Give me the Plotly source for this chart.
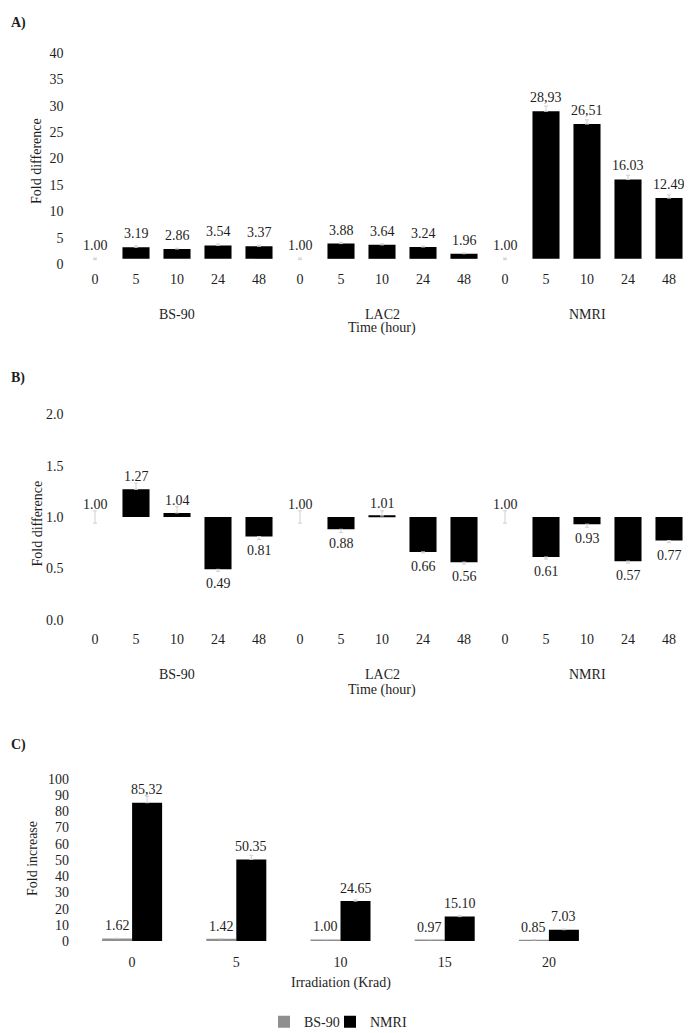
import plotly.graph_objects as go

# ---------------- data ----------------
times = ["0", "5", "10", "24", "48"]
strains = ["BS-90", "LAC2", "NMRI"]

a_values = [1.00, 3.19, 2.86, 3.54, 3.37,
            1.00, 3.88, 3.64, 3.24, 1.96,
            1.00, 28.93, 26.51, 16.03, 12.49]
a_labels = ["1.00", "3.19", "2.86", "3.54", "3.37",
            "1.00", "3.88", "3.64", "3.24", "1.96",
            "1.00", "28,93", "26,51", "16.03", "12.49"]
a_errors = [0.15, 0.25, 0.15, 0.25, 0.2,
            0.15, 0.25, 0.2, 0.15, 0.15,
            0.15, 1.0, 0.8, 0.8, 0.6]

b_values = [1.00, 1.27, 1.04, 0.49, 0.81,
            1.00, 0.88, 1.01, 0.66, 0.56,
            1.00, 0.61, 0.93, 0.57, 0.77]
b_labels = ["1.00", "1.27", "1.04", "0.49", "0.81",
            "1.00", "0.88", "1.01", "0.66", "0.56",
            "1.00", "0.61", "0.93", "0.57", "0.77"]
b_errors = [0.06, 0.06, 0.06, 0.02, 0.03,
            0.06, 0.03, 0.05, 0.01, 0.02,
            0.06, 0.02, 0.03, 0.02, 0.02]

c_doses = ["0", "5", "10", "15", "20"]
c_bs90 = [1.62, 1.42, 1.00, 0.97, 0.85]
c_bs90_labels = ["1.62", "1.42", "1.00", "0.97", "0.85"]
c_bs90_err = [0.2, 0.2, 0.1, 0.1, 0.1]
c_nmri = [85.32, 50.35, 24.65, 15.10, 7.03]
c_nmri_labels = ["85,32", "50.35", "24.65", "15.10", "7.03"]
c_nmri_err = [4.0, 2.5, 0.8, 0.6, 0.4]

# ---------------- style ----------------
BODY = 8              # default page margin around the plot div
W, H = 692 - 2 * BODY, 1033
FONT = "Liberation Serif"
TXT = "#1e1e1e"
ERR = "#d0d0d0"
GRAY = "#8f8f8f"


def fy(r):
    # target screen row -> figure pixel row (calibrated)
    return (r - 6.4) / 0.984 - BODY


def py(r):
    return 1 - fy(r) / H


def px_x(p):
    return (p - BODY) / W


def err_dirs(values, errs, base):
    # error bar shown only on the side away from the bar (both for empty bars)
    plus = [e if v >= base else 0 for v, e in zip(values, errs)]
    minus = [e if v <= base else 0 for v, e in zip(values, errs)]
    return plus, minus


n = len(times) * len(strains)
xs = list(range(n))
tick_text = times * len(strains)

fig = go.Figure()

bar_common = dict(cliponaxis=False, showlegend=False, hoverinfo="skip")

# Panel A
a_plus, a_minus = err_dirs(a_values, a_errors, 1)
fig.add_trace(go.Bar(
    x=xs, y=[v - 1 for v in a_values], base=1, width=0.66,
    marker=dict(color="black", line=dict(width=0)),
    error_y=dict(type="data", array=a_plus, arrayminus=a_minus, symmetric=False,
                 color=ERR, thickness=1, width=2),
    xaxis="x", yaxis="y", **bar_common,
))

# Panel B
b_plus, b_minus = err_dirs(b_values, b_errors, 1)
fig.add_trace(go.Bar(
    x=xs, y=[v - 1 for v in b_values], base=1, width=0.66,
    marker=dict(color="black", line=dict(width=0)),
    error_y=dict(type="data", array=b_plus, arrayminus=b_minus, symmetric=False,
                 color=ERR, thickness=1, width=2),
    xaxis="x2", yaxis="y2", **bar_common,
))

# Panel C
cx = list(range(len(c_doses)))
bw = 0.288
fig.add_trace(go.Bar(
    x=cx, y=c_bs90, width=bw, offset=-bw, name="BS-90",
    marker=dict(color=GRAY, line=dict(width=0)),
    error_y=dict(type="data", array=c_bs90_err, arrayminus=[0] * len(c_bs90), symmetric=False,
                 color=ERR, thickness=1, width=2),
    xaxis="x3", yaxis="y3", cliponaxis=False, hoverinfo="skip", legend="legend",
))
fig.add_trace(go.Bar(
    x=cx, y=c_nmri, width=bw, offset=0, name="NMRI",
    marker=dict(color="black", line=dict(width=0)),
    error_y=dict(type="data", array=c_nmri_err, arrayminus=[0] * len(c_nmri), symmetric=False,
                 color=ERR, thickness=1, width=2),
    xaxis="x3", yaxis="y3", cliponaxis=False, hoverinfo="skip", legend="legend2",
))

tickfont = dict(family=FONT, size=14, color=TXT)
common_ax = dict(showgrid=False, zeroline=False, showline=False, ticks="",
                 tickfont=tickfont, fixedrange=True)

# plot area of A/B: page x 74.5 .. figure right edge; category pitch 41 px
ab_left = 74.5
ab_right = BODY + W
ab_range = [-0.5, -0.5 + (ab_right - ab_left) / 41.0]
ab_xdom = [px_x(ab_left), 1.0]

layout_axes = dict(
    xaxis=dict(domain=ab_xdom, range=ab_range, tickvals=xs, ticktext=tick_text,
               anchor="y", ticklabelstandoff=5, **common_ax),
    yaxis=dict(domain=[py(263), py(52)], range=[0, 40], tickvals=list(range(0, 41, 5)),
               anchor="x", ticklabelstandoff=10, **common_ax),
    xaxis2=dict(domain=ab_xdom, range=ab_range, tickvals=xs, ticktext=tick_text,
                anchor="y2", ticklabelstandoff=9, **common_ax),
    yaxis2=dict(domain=[py(618), py(413)], range=[0, 2], tickvals=[0, 0.5, 1.0, 1.5, 2.0],
                tickformat=".1f", anchor="x2", ticklabelstandoff=10, **common_ax),
    xaxis3=dict(domain=[px_x(80), px_x(601)], range=[-0.5, len(c_doses) - 0.5],
                tickvals=cx, ticktext=c_doses, anchor="y3", ticklabelstandoff=11, **common_ax),
    yaxis3=dict(domain=[py(939), py(777)], range=[0, 100], tickvals=list(range(0, 101, 10)),
                anchor="x3", ticklabelstandoff=10, **common_ax),
)

annotations = []


def ann(text, x, y, xref="paper", yref="paper", bold=False, angle=0,
        xanchor="center", yshift=0):
    annotations.append(dict(
        text=f"<b>{text}</b>" if bold else text, x=x, y=y, xref=xref, yref=yref,
        showarrow=False, textangle=angle, xanchor=xanchor, yanchor="middle",
        yshift=yshift,
        font=dict(family=FONT, size=14, color=TXT)))


# value labels
for i, (v, t) in enumerate(zip(a_values, a_labels)):
    ann(t, i, v, xref="x", yref="y", yshift=13.5)
for i, (v, t) in enumerate(zip(b_values, b_labels)):
    ann(t, i, v, xref="x2", yref="y2", yshift=12.5 if v >= 1 else -14.5)
for i, (v, t) in enumerate(zip(c_bs90, c_bs90_labels)):
    ann(t, i - bw / 2, v, xref="x3", yref="y3", yshift=12.5)
for i, (v, t) in enumerate(zip(c_nmri, c_nmri_labels)):
    ann(t, i + bw / 2, v, xref="x3", yref="y3", yshift=13)

# panel letters
ann("A)", px_x(9), 1 - 8 / H, bold=True, xanchor="left")
ann("B)", px_x(9), py(377), bold=True, xanchor="left")
ann("C)", px_x(9), py(743), bold=True, xanchor="left")

# y titles
ann("Fold difference", px_x(37), py(160), angle=-90)
ann("Fold difference", px_x(37), py(522), angle=-90)
ann("Fold increase", px_x(33), py(857), angle=-90)

# group labels
for i, s in enumerate(strains):
    ann(s, i * 5 + 2, py(313), xref="x")
    ann(s, i * 5 + 2, py(673), xref="x2")
ann("Time (hour)", 7, py(327), xref="x")
ann("Time (hour)", 7, py(688), xref="x2")
ann("Irradiation (Krad)", 2, py(981), xref="x3")

legend_style = dict(orientation="h", yanchor="middle", xanchor="left",
                    font=dict(family=FONT, size=14, color=TXT), itemwidth=30,
                    bgcolor="rgba(0,0,0,0)", borderwidth=0)

fig.update_layout(
    width=W, height=H, margin=dict(l=0, r=0, t=0, b=0),
    paper_bgcolor="white", plot_bgcolor="white",
    barmode="overlay",
    font=dict(family=FONT, size=14, color=TXT),
    annotations=annotations,
    legend=dict(x=px_x(264), y=py(1020), **legend_style),
    legend2=dict(x=px_x(330), y=py(1020), **legend_style),
    **layout_axes,
)

fig.write_html("out.html")
